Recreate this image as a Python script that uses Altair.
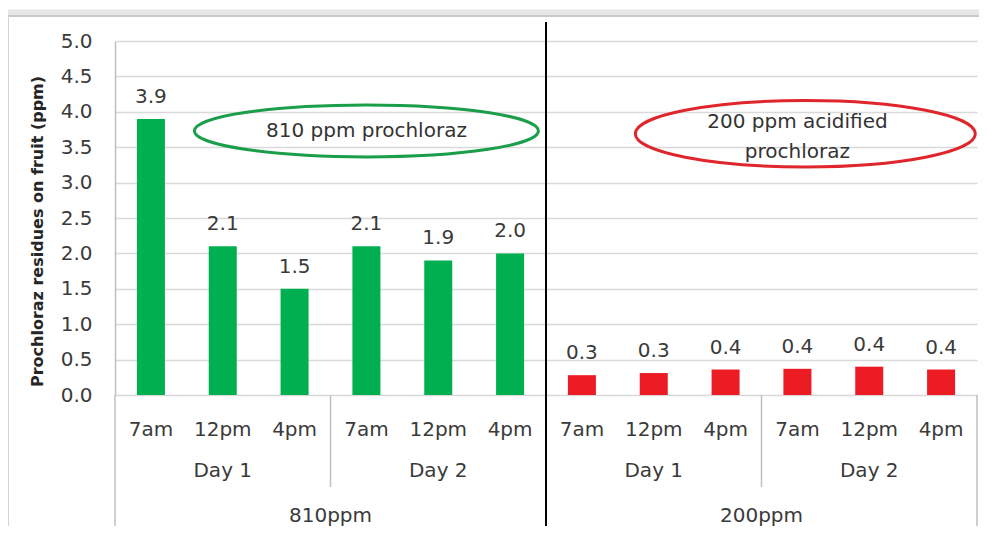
import altair as alt
import pandas as pd

# ---------------- data ----------------
concentrations = ["810ppm"] * 6 + ["200ppm"] * 6
days = ["Day 1", "Day 1", "Day 1", "Day 2", "Day 2", "Day 2"] * 2
times = ["7am", "12pm", "4pm"] * 4
residues = [3.9, 2.1, 1.5, 2.1, 1.9, 2.0, 0.28, 0.31, 0.36, 0.37, 0.40, 0.36]
y_ticks = [0.0, 0.5, 1.0, 1.5, 2.0, 2.5, 3.0, 3.5, 4.0, 4.5, 5.0]
conc_order = ["810ppm", "200ppm"]
conc_colors = ["#00b050", "#ec1c24"]
note_green = "810 ppm prochloraz"
note_red = "200 ppm acidified\nprochloraz"
y_title = "Prochloraz residues on fruit (ppm)"

keys = [f"{c}|{d}|{t}" for c, d, t in zip(concentrations, days, times)]
df = pd.DataFrame({"key": keys, "conc": concentrations, "day": days,
                   "time": times, "residue": residues})
one = pd.DataFrame({"k": [0]})

# ---------------- style ----------------
W, H = 862, 354
FONT = "DejaVu Sans"
TXT = "#3a3a3a"
GRID = "#d9d9d9"

x_scale = alt.Scale(domain=keys, paddingInner=0, paddingOuter=0)
y_scale = alt.Scale(domain=[0, 5], nice=False)

x_axis = alt.Axis(title=None, labelExpr="split(datum.label, '|')[2]", labelAngle=0,
                  labelFont=FONT, labelFontSize=20, labelColor=TXT, labelPadding=24,
                  domain=False, ticks=False, grid=False)
y_axis = alt.Axis(values=y_ticks, format=".1f", title=y_title, titleFont=FONT,
                  titleFontSize=16, titleFontWeight="bold", titleColor="#262626",
                  titleAngle=270, titleX=-78, titleY=190, titleAlign="center",
                  titleBaseline="middle", labelFont=FONT, labelFontSize=20,
                  labelColor=TXT, labelPadding=23, ticks=False, domainColor="#bfbfbf",
                  domainWidth=1.5, gridColor=GRID, gridWidth=1.5)


def xk(band=0.5):
    return alt.X("key:N", scale=x_scale, axis=x_axis, bandPosition=band)


def ellipse_path(ratio):
    k = 0.5523
    r = ratio
    return (f"M-1,0C-1,{-k*r:.4f},{-k:.4f},{-r:.4f},0,{-r:.4f}"
            f"C{k:.4f},{-r:.4f},1,{-k*r:.4f},1,0"
            f"C1,{k*r:.4f},{k:.4f},{r:.4f},0,{r:.4f}"
            f"C{-k:.4f},{r:.4f},-1,{k*r:.4f},-1,0Z")


bars = alt.Chart(df).mark_bar(width=alt.RelativeBandSize(0.39)).encode(
    x=xk(),
    y=alt.Y("residue:Q", scale=y_scale, axis=y_axis),
    color=alt.Color("conc:N", scale=alt.Scale(domain=conc_order, range=conc_colors), legend=None),
)

values = alt.Chart(df).mark_text(font=FONT, fontSize=20, color=TXT,
                                 baseline="alphabetic", dy=-16).encode(
    x=xk(),
    y=alt.Y("residue:Q", scale=y_scale, axis=y_axis),
    text=alt.Text("residue:Q", format=".1f"),
)

day_labels = alt.Chart(df).transform_filter("datum.time == '12pm'").mark_text(
    font=FONT, fontSize=20, color=TXT, baseline="middle").encode(
    x=xk(), y=alt.value(H + 76), text="day:N")

conc_labels = alt.Chart(df).transform_filter(
    "datum.day == 'Day 2' && datum.time == '7am'").mark_text(
    font=FONT, fontSize=20, color=TXT, baseline="middle").encode(
    x=xk(0), y=alt.value(H + 121), text="conc:N")

day_sep = alt.Chart(df).transform_filter(
    "datum.day == 'Day 2' && datum.time == '7am'").mark_rule(
    color="#bfbfbf", strokeWidth=1.5).encode(
    x=xk(0), y=alt.value(H), y2=alt.value(H + 92))

left_sep = alt.Chart(df).transform_filter(
    "datum.conc == '810ppm' && datum.day == 'Day 1' && datum.time == '7am'").mark_rule(
    color="#bfbfbf", strokeWidth=1.5).encode(
    x=xk(0), y=alt.value(H), y2=alt.value(H + 150))

right_sep = alt.Chart(df).transform_filter(
    "datum.conc == '200ppm' && datum.day == 'Day 2' && datum.time == '4pm'").mark_rule(
    color="#bfbfbf", strokeWidth=1.5).encode(
    x=xk(1), y=alt.value(H), y2=alt.value(H + 150))

black_sep = alt.Chart(df).transform_filter(
    "datum.conc == '200ppm' && datum.day == 'Day 1' && datum.time == '7am'").mark_rule(
    color="#000000", strokeWidth=2).encode(
    x=xk(0), y=alt.value(-19), y2=alt.value(H + 150))

# annotations
green_ell = alt.Chart(one).mark_point(
    shape=ellipse_path(0.151), size=344 ** 2, filled=False, stroke="#1a9e4a",
    strokeWidth=3, opacity=1).encode(
    x=alt.XDatum(keys[3], scale=x_scale, axis=x_axis, bandPosition=0.5),
    y=alt.YDatum(3.73, scale=y_scale, axis=y_axis))
green_txt = alt.Chart(one).mark_text(
    font=FONT, fontSize=20, color="#333333", baseline="middle", text=note_green).encode(
    x=alt.XDatum(keys[3], scale=x_scale, axis=x_axis, bandPosition=0.5),
    y=alt.YDatum(3.73, scale=y_scale, axis=y_axis))

red_ell = alt.Chart(one).mark_point(
    shape=ellipse_path(0.195), size=340 ** 2, filled=False, stroke="#e0262d",
    strokeWidth=3, opacity=1).encode(
    x=alt.XDatum(keys[9], scale=x_scale, axis=x_axis, bandPosition=0.61),
    y=alt.YDatum(3.69, scale=y_scale, axis=y_axis))
red_txt = alt.Chart(one).mark_text(
    font=FONT, fontSize=20, color="#333333", baseline="middle", lineBreak="\n",
    lineHeight=30, text=note_red).encode(
    x=alt.XDatum(keys[9], scale=x_scale, axis=x_axis, bandPosition=0.5),
    y=alt.YDatum(3.86, scale=y_scale, axis=y_axis))

# frame shadow
frame_top_soft = alt.Chart(one).mark_rule(color="#e6e6e6", strokeWidth=7).encode(
    x=alt.value(-110), x2=alt.value(W + 20), y=alt.value(-28))
frame_top = alt.Chart(one).mark_rule(color="#c9c9c9", strokeWidth=2).encode(
    x=alt.value(-107), x2=alt.value(W + 20), y=alt.value(-25))
frame_left = alt.Chart(one).mark_rule(color="#d4d4d4", strokeWidth=2).encode(
    x=alt.value(-107), y=alt.value(-25), y2=alt.value(H + 160))

chart = alt.layer(
    frame_top_soft, frame_top, frame_left,
    bars, values, day_sep, left_sep, right_sep, black_sep,
    day_labels, conc_labels, green_ell, green_txt, red_ell, red_txt,
).properties(
    width=W, height=H,
    autosize=alt.AutoSizeParams(type="none"),
    padding={"left": 107, "top": 33, "right": 2, "bottom": 131},
    background="white",
).configure_view(strokeWidth=0)

chart.save("out.html", embed_options={"renderer": "svg", "actions": False})
